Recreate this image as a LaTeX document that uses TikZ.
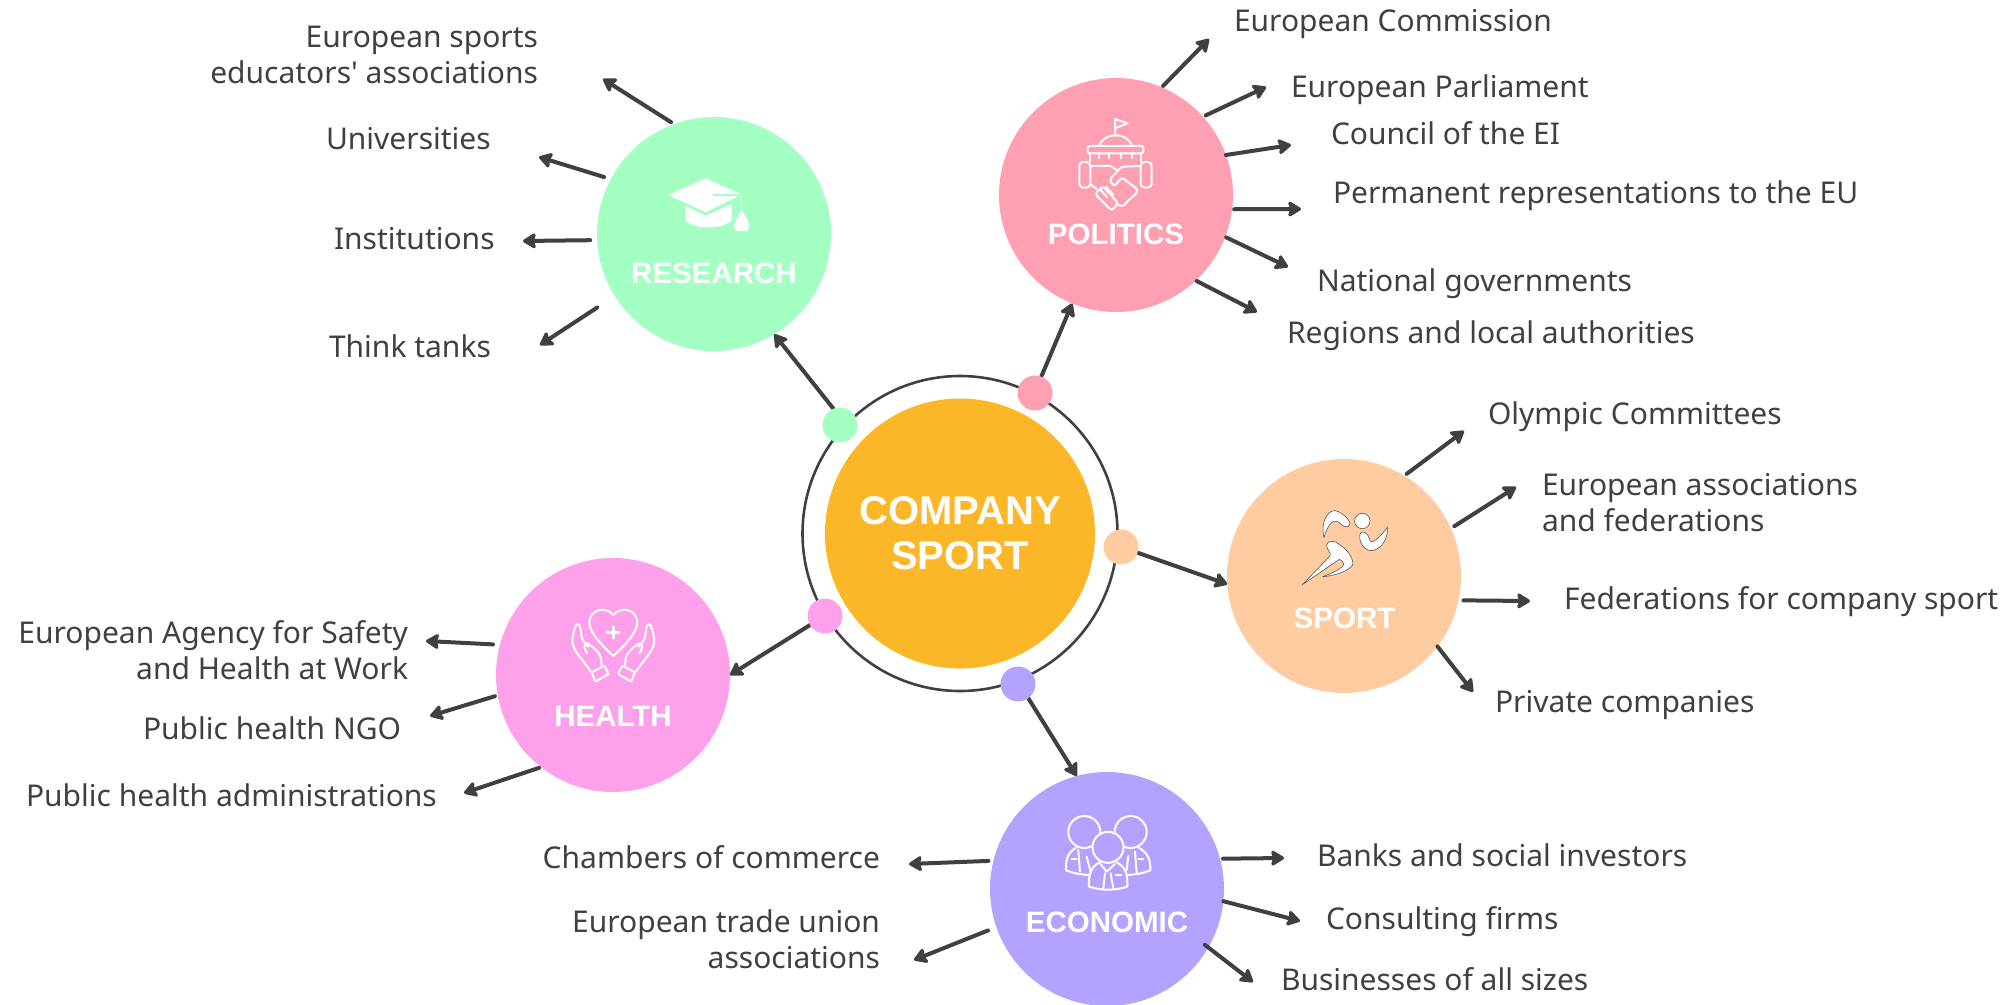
\documentclass[tikz,border=0pt]{standalone}
\usepackage{fontspec}
\newfontfamily\labelfont{Noto Sans}
\newfontfamily\headfont{Liberation Sans}[BoldFont={Liberation Sans Bold}]
\usetikzlibrary{arrows.meta}
\definecolor{ink}{HTML}{404040}
\definecolor{cres}{HTML}{A3FFC2}
\definecolor{cpol}{HTML}{FF9FB2}
\definecolor{cspo}{HTML}{FFCBA0}
\definecolor{chea}{HTML}{FFA1EA}
\definecolor{ceco}{HTML}{B3A2FF}
\definecolor{ccen}{HTML}{FCB729}
\tikzset{
 hub/.style={circle,minimum size=234pt,inner sep=0pt,outer sep=0pt},
 dotnode/.style={circle,minimum size=35pt,inner sep=0pt,outer sep=0pt},
 lab/.style={inner sep=0pt,outer sep=0pt,text=ink,font=\labelfont\fontsize{30}{36}\selectfont,align=#1},
 lab/.default=left,
 title/.style={inner sep=0pt,outer sep=0pt,text=white,font=\headfont\bfseries\fontsize{29.5}{36}\selectfont},
 spoke/.style={draw=ink,line width=4pt,line cap=round,-{Stealth[length=15pt,width=18pt,inset=2.5pt,round]}},
 iconline/.style={draw=white,line width=2pt,line cap=round,line join=round},
}
\begin{document}
\begin{tikzpicture}[x=1pt,y=-1pt]
\useasboundingbox (0,0) rectangle (2007,1004);
% ring and hubs
\node[circle,draw=ink,line width=2.6pt,minimum size=315pt,inner sep=0pt,outer sep=0pt] (ring) at (960,533.5) {};
\node[circle,fill=ccen,minimum size=270pt,inner sep=0pt,outer sep=0pt] (center) at (960,533.5) {};
\node[hub,fill=cres] (research) at (714,234) {};
\node[hub,fill=cpol] (politics) at (1116,195) {};
\node[hub,fill=cspo] (sport) at (1344,576) {};
\node[hub,fill=chea] (health) at (613,675) {};
\node[hub,fill=ceco] (economic) at (1107,889) {};
% centre text
\node[title,align=center,font=\headfont\bfseries\fontsize{40}{45}\selectfont,anchor=base] (centertext) at (960,569) {COMPANY\\SPORT};
% titles
\node[title,anchor=base] (tres) at (714,283) {RESEARCH};
\node[title,anchor=base] (tpol) at (1116,244) {POLITICS};
\node[title,anchor=base] (tspo) at (1344.5,628) {SPORT};
\node[title,anchor=base] (thea) at (613,726) {HEALTH};
\node[title,anchor=base] (teco) at (1107,932) {ECONOMIC};
% dots
\node[dotnode] (dotr) at (840,425) {};
\node[dotnode] (dotp) at (1035,393) {};
\node[dotnode] (dots) at (1121,547) {};
\node[dotnode] (doth) at (825,616) {};
\node[dotnode] (dote) at (1018,684) {};
% hub spokes
\draw[spoke] (dotr.112) -- (research.-59);
\draw[spoke] (dotp.69) -- (politics.-112);
\draw[spoke] (dots.-19) -- (sport.184);
\draw[spoke] (doth.211) -- (health.0);
\draw[spoke] (dote.-54) -- (economic.105);
\fill[cres] (dotr) circle (17.5pt);
\fill[cpol] (dotp) circle (17.5pt);
\fill[cspo] (dots) circle (17.5pt);
\fill[chea] (doth) circle (17.5pt);
\fill[ceco] (dote) circle (17.5pt);
% free ends
\coordinate (r1) at (603,79);
\coordinate (r2) at (539,157);
\coordinate (r3) at (523,241);
\coordinate (r4) at (540,345);
\coordinate (p1) at (1209,39);
\coordinate (p2) at (1266,87);
\coordinate (p3) at (1291,145);
\coordinate (p4) at (1301,209);
\coordinate (p5) at (1288,267);
\coordinate (p6) at (1257,312);
\coordinate (s1) at (1464,431);
\coordinate (s2) at (1516,487);
\coordinate (s3) at (1530,601);
\coordinate (s4) at (1473,692);
\coordinate (h1) at (426,641);
\coordinate (h2) at (430,716);
\coordinate (h3) at (464,793);
\coordinate (e1) at (909,864);
\coordinate (e2) at (914,960);
\coordinate (e3) at (1284,858);
\coordinate (e4) at (1300,921);
\coordinate (e5) at (1253,982);
% spokes
\draw[spoke,shorten <=3.5pt] (research.110.4) -- (r1);
\draw[spoke,shorten <=7pt] (research.152.2) -- (r2);
\draw[spoke,shorten <=7pt] (research.183.4) -- (r3);
\draw[spoke,shorten <=21pt] (research.212) -- (r4);
\draw[spoke,shorten <=2pt] (politics.67.8) -- (p1);
\draw[spoke,shorten <=3pt] (politics.42.3) -- (p2);
\draw[spoke] (politics.20.2) -- (p3);
\draw[spoke,shorten <=2pt] (politics.-7.7) -- (p4);
\draw[spoke,shorten <=1pt] (politics.-21.4) -- (p5);
\draw[spoke,shorten <=1pt] (politics.-47.4) -- (p6);
\draw[spoke,shorten <=3pt] (sport.59) -- (s1);
\draw[spoke,shorten <=4pt] (sport.24.9) -- (s2);
\draw[spoke,shorten <=5pt] (sport.-12.3) -- (s3);
\draw[spoke] (sport.-37.7) -- (s4);
\draw[spoke,shorten <=7pt] (health.165.5) -- (h1);
\draw[spoke,shorten <=3pt] (health.190.6) -- (h2);
\draw[spoke,shorten <=2pt] (health.232.8) -- (h3);
\draw[spoke,shorten <=5pt] (economic.166.3) -- (e1);
\draw[spoke,shorten <=9pt] (economic.199.4) -- (e2);
\draw[spoke,shorten <=3pt] (economic.15.5) -- (e3);
\draw[spoke] (economic.-6.4) -- (e4);
\draw[spoke,shorten <=-4.5pt] (economic.-30.4) -- (e5);
% labels
\node[lab=right,anchor=base east] (lr1) at (538,83) {European sports\\educators' associations};
\node[lab,anchor=base west] (lr2) at (326,149) {Universities};
\node[lab,anchor=base west] (lr3) at (334,249) {Institutions};
\node[lab,anchor=base west] (lr4) at (329,357) {Think tanks};
\node[lab,anchor=base west] (lp1) at (1234,31) {European Commission};
\node[lab,anchor=base west] (lp2) at (1291,97) {European Parliament};
\node[lab,anchor=base west] (lp3) at (1331,144) {Council of the EI};
\node[lab,anchor=base west] (lp4) at (1333,203) {Permanent representations to the EU};
\node[lab,anchor=base west] (lp5) at (1317,291) {National governments};
\node[lab,anchor=base west] (lp6) at (1287,343) {Regions and local authorities};
\node[lab,anchor=base west] (ls1) at (1488,424) {Olympic Committees};
\node[lab,anchor=base west] (ls2) at (1542,531) {European associations\\and federations};
\node[lab,anchor=base west] (ls3) at (1564,609) {Federations for company sport};
\node[lab,anchor=base west] (ls4) at (1495,712) {Private companies};
\node[lab=right,anchor=base east] (lh1) at (408,679) {European Agency for Safety\\and Health at Work};
\node[lab,anchor=base west] (lh2) at (143,739) {Public health NGO};
\node[lab,anchor=base west] (lh3) at (26,806) {Public health administrations};
\node[lab,anchor=base east] (le1) at (880,868) {Chambers of commerce};
\node[lab=right,anchor=base east] (le2) at (880,968) {European trade union\\associations};
\node[lab,anchor=base west] (le3) at (1317,866) {Banks and social investors};
\node[lab,anchor=base west] (le4) at (1326,929) {Consulting firms};
\node[lab,anchor=base west] (le5) at (1281,990) {Businesses of all sizes};
% --- icons ---
% research: cap
\begin{scope}[shift={(550,80)},x=.3333pt,y=-.3333pt]
 \fill[white] (355,345) -- (467,295) -- (575,343) -- (467,397) -- cycle;
 \fill[white] (406,378) -- (467,407) -- (545,372) -- (545,420) .. controls (520,450) and (430,450) .. (406,420) -- cycle;
 \draw[cres,line width=1.3pt] (490,345) -- (572,345);
 \draw[white,line width=1.3pt] (575,345) -- (575,400);
 \fill[white,rounded corners=3pt] (575,393) .. controls (560,410) and (552,430) .. (553,442) .. controls (556,455) and (592,455) .. (597,442) .. controls (597,430) and (590,410) .. (575,393) -- cycle;
\end{scope}
% politics: dome and handshake
\begin{scope}[shift={(980,90)},x=.3333pt,y=-.3333pt]
 \draw[iconline] (405,130) -- (405,87) -- (443,100) -- (405,115);
 \draw[iconline] (358,168) .. controls (370,125) and (445,125) .. (455,168);
 \draw[iconline,rounded corners=2pt] (323,168) -- (490,168) -- (490,190) -- (323,190) -- cycle;
 \draw[iconline] (330,190) -- (330,215) (484,190) -- (484,215);
 \draw[iconline] (358,190) -- (358,205) (388,190) -- (388,205) (422,190) -- (422,205) (456,190) -- (456,205);
 \draw[iconline,rounded corners=4pt] (298,216) -- (331,216) -- (331,293) -- (298,293) -- cycle;
 \draw[iconline,rounded corners=4pt] (482,216) -- (515,216) -- (515,293) -- (482,293) -- cycle;
 \draw[iconline] (332,228) -- (392,228) -- (412,242);
 \draw[iconline,rounded corners=3pt] (482,228) -- (425,230) -- (388,270) -- (403,290) -- (425,262) -- (475,300) -- (462,318) -- (445,330) -- (430,350) -- (415,345);
 \draw[iconline] (332,283) -- (350,297);
 \draw[iconline,rounded corners=3pt] (345,312) -- (368,288) -- (415,340) -- (395,362) -- cycle;
 \draw[iconline] (360,298) -- (382,322) (378,290) -- (400,315);
\end{scope}
% sport: runner
\begin{scope}[shift={(1220,450)},x=.3333pt,y=-.3333pt]
 \tikzset{runner/.style={fill=white,draw=ink,line width=.5pt,line join=round}}
 \path[runner] (427,213) circle (7.7pt);
 \path[runner] (312,263) .. controls (300,215) and (325,180) .. (345,182) .. controls (365,185) and (390,210) .. (390,222) .. controls (385,235) and (370,232) .. (360,220) .. controls (345,205) and (325,215) .. (312,263) -- cycle;
 \path[runner] (420,252) .. controls (425,238) and (445,250) .. (448,265) .. controls (450,285) and (470,275) .. (502,232) .. controls (505,270) and (480,300) .. (455,302) .. controls (435,302) and (415,280) .. (420,252) -- cycle;
 \path[runner] (320,285) .. controls (322,270) and (345,270) .. (360,285) .. controls (385,300) and (402,330) .. (398,345) .. controls (385,365) and (340,378) .. (308,380) .. controls (330,372) and (365,358) .. (372,342) .. controls (368,335) and (365,330) .. (358,328) -- (247,404) -- (330,318) .. controls (335,305) and (318,300) .. (320,285) -- cycle;
\end{scope}
% health: heart and hands
\begin{scope}[shift={(490,550)},x=.3333pt,y=-.3333pt]
 \draw[iconline] (370,195) .. controls (345,165) and (298,180) .. (298,218) .. controls (298,250) and (345,295) .. (370,318) .. controls (395,295) and (442,250) .. (442,218) .. controls (442,180) and (395,165) .. (370,195) -- cycle;
 \draw[white,line width=2.6pt] (370,227) -- (370,268) (349,247) -- (391,247);
 \draw[iconline] (302,365) .. controls (280,330) and (245,300) .. (247,270) .. controls (250,250) and (255,225) .. (262,222) .. controls (270,222) and (272,235) .. (274,255) .. controls (275,268) and (280,275) .. (295,290) (292,310) .. controls (280,295) and (282,280) .. (292,280) .. controls (310,290) and (332,312) .. (332,322) -- (335,345);
 \draw[iconline,rounded corners=1pt] (305,367) -- (343,347) -- (356,372) -- (316,395) -- cycle;
 \draw[iconline] (438,365) .. controls (460,330) and (495,300) .. (493,270) .. controls (490,250) and (485,225) .. (478,222) .. controls (470,222) and (468,235) .. (466,255) .. controls (465,268) and (460,275) .. (445,290) (448,310) .. controls (460,295) and (458,280) .. (448,280) .. controls (430,290) and (408,312) .. (408,322) -- (405,345);
 \draw[iconline,rounded corners=1pt] (435,367) -- (397,347) -- (384,372) -- (424,395) -- cycle;
\end{scope}
% economic: people
\begin{scope}[shift={(980,770)},x=.3333pt,y=-.3333pt]
 \draw[iconline] (313,186) circle (16pt);
 \draw[iconline] (452,186) circle (16pt);
 \draw[iconline] (290,232) .. controls (265,248) and (257,262) .. (258,301) .. controls (280,310) and (305,314) .. (330,315);
 \draw[iconline] (475,232) .. controls (500,248) and (512,262) .. (511,301) .. controls (490,310) and (465,314) .. (440,315);
 \draw[iconline] (295,240) -- (300,305) (320,260) -- (332,305);
 \draw[iconline] (445,258) -- (440,300) (465,245) -- (470,308);
 \draw[iconline] (275,268) -- (290,268) (475,268) -- (490,268);
 \draw[iconline,fill=ceco] (384,232) circle (15.5pt);
 \draw[iconline] (358,277) .. controls (335,290) and (325,310) .. (327,350) .. controls (365,362) and (405,362) .. (442,350) .. controls (444,310) and (435,290) .. (410,277);
 \draw[iconline] (360,280) -- (380,305) -- (405,282);
 \draw[iconline] (375,310) -- (370,355) (392,310) -- (400,355);
 \draw[iconline] (407,316) -- (424,316);
\end{scope}
\end{tikzpicture}
\end{document}
